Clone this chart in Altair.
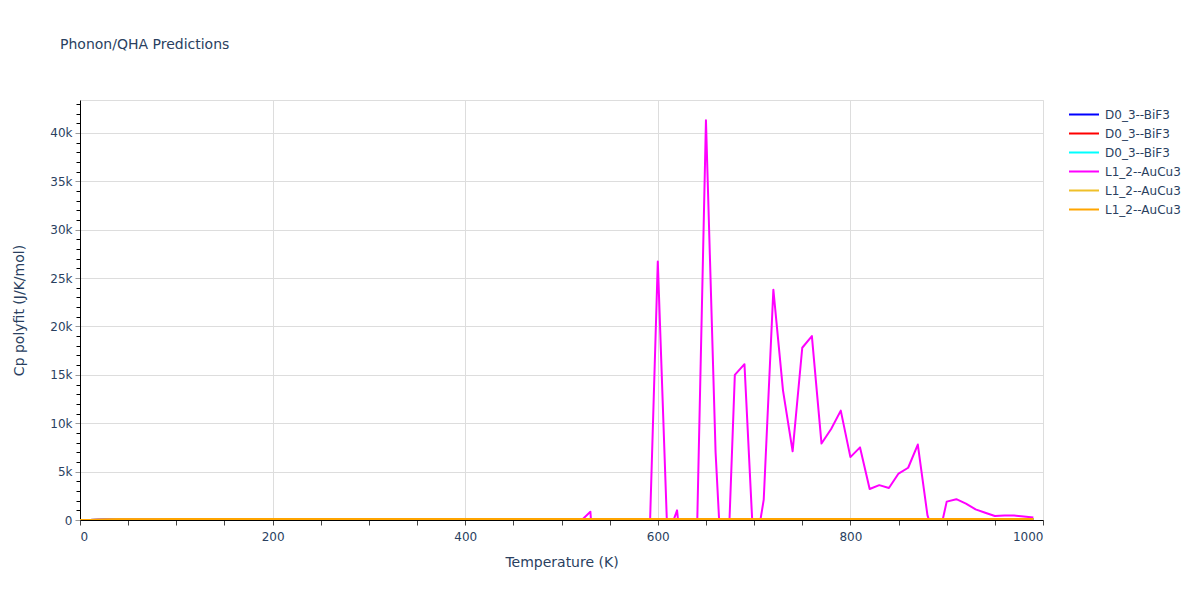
import altair as alt
import pandas as pd

# ---------------- data ----------------
temps_main = list(range(0, 1000, 10))
cp_l12_magenta = [
    0, 6, 28, 50, 64, 73, 79, 83, 86, 88,
    89.5, 90.6, 91.5, 92.2, 92.8, 93.3, 93.7, 94.1, 94.4, 94.7,
    95.0, 95.2, 95.4, 95.6, 95.8, 96.0, 96.1, 96.3, 96.4, 96.6,
    96.7, 96.9, 97.0, 97.2, 97.3, 97.5, 97.6, 97.8, 98.0, 98.2,
    98.4, 98.6, 98.9, 99.2, 99.6, 100.0, 100.5, 101, 102, 103,
    105, 90,
    -100, 850, -13000, -11000, -9500, -8500, -7500, -6700, 26700, -1800,
    1000, -9000, -4600, 41300, 7000, -12000, 15000, 16100, -4000, 2100,
    23800, 13400, 7100, 17800, 19000, 7900, 9400, 11300, 6500, 7500,
    3200, 3600, 3300, 4800, 5400, 7800, 500, -2600, 1900, 2150,
    1700, 1100, 750, 420, 470, 470, 360, 260,
]

temps_other = [0, 10, 20, 30, 40, 50, 75, 100, 150, 200, 300, 400, 500, 600, 700, 800, 900, 990]
cp_d03_blue = [0, 7, 27, 46, 61, 71, 84, 90, 95, 97, 99, 100, 101, 102, 103, 104, 105, 106]
cp_d03_red = [0, 7, 26, 45, 60, 70, 83, 89, 94, 96.5, 98.5, 99.5, 100.5, 101.5, 102.5, 103.5, 104.5, 105.5]
cp_d03_cyan = [0, 7, 27, 46, 61, 71, 84, 90, 95, 97, 99, 100, 101, 102, 103, 104, 105, 106]
cp_l12_gold = [0, 9, 36, 58, 72, 80, 89, 93, 96.5, 98, 99.5, 100.5, 101.5, 102.5, 103.5, 104.5, 105.5, 106.5]
cp_l12_orange = [0, 9, 36, 58, 72, 80, 89, 93, 96.5, 98, 99.5, 100.5, 101.5, 102.5, 103.5, 104.5, 105.5, 106.5]

series_keys = ["D0_3--BiF3#1", "D0_3--BiF3#2", "D0_3--BiF3#3",
               "L1_2--AuCu3#1", "L1_2--AuCu3#2", "L1_2--AuCu3#3"]
series_colors = ["#0000ff", "#ff0000", "#00ffff", "#ff00ff", "#efc02a", "#ffa500"]

rows = []
for key, ts, vals in [
    (series_keys[0], temps_other, cp_d03_blue),
    (series_keys[1], temps_other, cp_d03_red),
    (series_keys[2], temps_other, cp_d03_cyan),
    (series_keys[3], temps_main, cp_l12_magenta),
    (series_keys[4], temps_other, cp_l12_gold),
    (series_keys[5], temps_other, cp_l12_orange),
]:
    for t, v in zip(ts, vals):
        rows.append({"T": t, "Cp": v, "series": key})
df = pd.DataFrame(rows)

x_major = [0, 200, 400, 600, 800, 1000]
x_minor = list(range(0, 1001, 50))
y_major = list(range(0, 40001, 5000))
y_minor = list(range(0, 43001, 1000))

FONT = "DejaVu Sans"
TXT = "#2a3f5f"

xscale = alt.Scale(domain=[0, 1000], nice=False, zero=False)
yscale = alt.Scale(domain=[0, 43400], nice=False, zero=False)

lines = alt.Chart(df).mark_line(strokeWidth=2, clip=True, strokeJoin="round").encode(
    x=alt.X("T:Q", scale=xscale,
            axis=alt.Axis(values=x_minor, title="Temperature (K)", orient="bottom",
                          labelExpr="datum.value % 200 == 0 ? format(datum.value, 'd') : ''",
                          grid=False, tickSize=5, tickColor="#444", domainColor="#000",
                          labelPadding=6, titlePadding=13, labelFontSize=12,
                          titleFontSize=14, titleFontWeight="normal",
                          labelColor=TXT, titleColor=TXT, labelFont=FONT, titleFont=FONT)),
    y=alt.Y("Cp:Q", scale=yscale,
            axis=alt.Axis(values=y_major, title="Cp polyfit (J/K/mol)", orient="left",
                          labelExpr="datum.value == 0 ? '0' : format(datum.value / 1000, 'd') + 'k'",
                          grid=True, gridColor="#dddddd", tickSize=5, tickColor="#999",
                          domainColor="#000", labelPadding=3, titlePadding=23,
                          labelFontSize=12, titleFontSize=14, titleFontWeight="normal",
                          labelColor=TXT, titleColor=TXT, labelFont=FONT, titleFont=FONT)),
    color=alt.Color("series:N",
                    scale=alt.Scale(domain=series_keys, range=series_colors),
                    legend=alt.Legend(title=None, orient="none", legendX=988, legendY=5,
                                      symbolType="stroke", symbolSize=900,
                                      symbolStrokeWidth=2, clipHeight=19, rowPadding=0,
                                      labelOffset=5, labelFontSize=12, labelColor=TXT,
                                      labelFont=FONT, padding=0,
                                      labelExpr="split(datum.label, '#')[0]")),
    detail="series:N",
    order="T:Q",
)

grid_x = alt.Chart(pd.DataFrame({"T": x_major})).mark_point(opacity=0).encode(
    x=alt.X("T:Q", scale=xscale,
            axis=alt.Axis(values=x_major, grid=True, gridColor="#dddddd", labels=False,
                          ticks=False, domain=False, title=None, orient="bottom")),
    y=alt.Y("Tz:Q", scale=yscale,
            axis=alt.Axis(values=y_minor, grid=False, labels=False, ticks=True,
                          tickSize=4, tickColor="#000", domain=False, title=None,
                          orient="left")),
).transform_calculate(Tz="0")

chart = alt.layer(grid_x, lines).resolve_axis(x="independent", y="independent").properties(
    width=963,
    height=420,
    title=alt.Title("Phonon/QHA Predictions", anchor="start", frame="group", dx=-20,
                    offset=48, fontSize=14, font=FONT, color=TXT, fontWeight="normal"),
    autosize=alt.AutoSizeParams(type="none"),
    padding={"left": 72, "top": 92, "right": 149, "bottom": 72},
).configure_view(stroke=None).configure(font=FONT)

chart.save("out.html", embed_options={"renderer": "svg", "actions": False})
